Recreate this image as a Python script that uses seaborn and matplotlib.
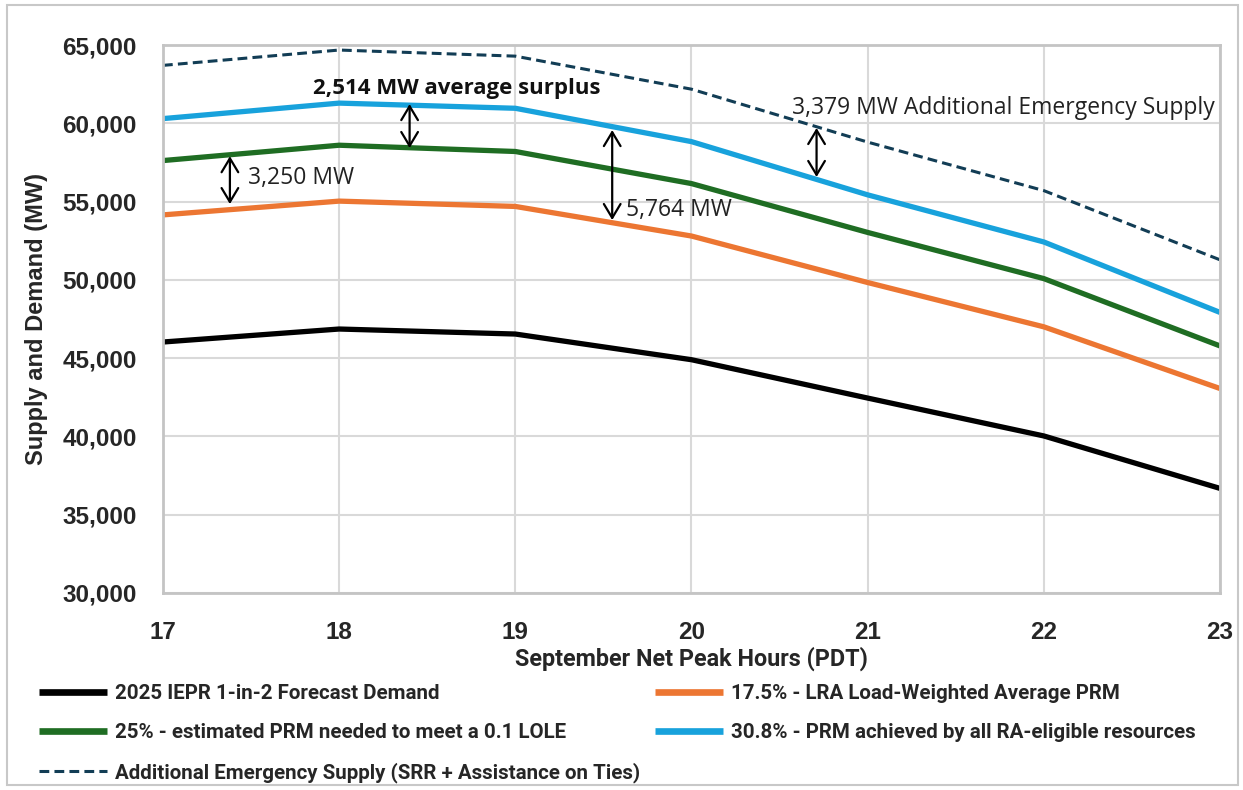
"""September net peak supply vs demand, recreated with seaborn."""

import matplotlib

matplotlib.use("Agg")
import matplotlib.pyplot as plt
import pandas as pd
import seaborn as sns
from matplotlib.patches import Rectangle
from matplotlib.ticker import FuncFormatter

# ---- data ----
hours = [17, 18, 19, 20, 21, 22, 23]
demand = [46030, 46860, 46540, 44900, 42450, 40030, 36680]
prm_175 = [54150, 55030, 54690, 52800, 49830, 47000, 43060]
prm_25 = [57620, 58600, 58200, 56150, 53030, 50080, 45780]
prm_308 = [60300, 61290, 60960, 58830, 55430, 52420, 47920]
emergency = [63700, 64680, 64290, 62180, 58800, 55700, 51280]

series_labels = [
    "2025 IEPR 1-in-2 Forecast Demand",
    "17.5% - LRA Load-Weighted Average PRM",
    "25% - estimated PRM needed to meet a 0.1 LOLE",
    "30.8% - PRM achieved by all RA-eligible resources",
    "Additional Emergency Supply (SRR + Assistance on Ties)",
]
series_values = [demand, prm_175, prm_25, prm_308, emergency]
series_colors = ["#000000", "#ec7632", "#1f6d23", "#18a2dc", "#123d55"]

# annotation gaps: (label, x, y_low, y_high)
gap_arrows = [
    ("3,250 MW", 17.38, 54840, 57900),
    ("2,514 MW average surplus", 18.40, 58420, 61230),
    ("5,764 MW", 19.55, 53820, 59570),
    ("3,379 MW Additional Emergency Supply", 20.71, 56570, 59700),
]

df = pd.DataFrame(
    {
        "hour": hours * len(series_labels),
        "mw": [v for vals in series_values for v in vals],
        "series": [lab for lab in series_labels for _ in hours],
    }
)

sns.set_style("white")
plt.rcParams["font.family"] = ["Liberation Sans", "DejaVu Sans"]

fig = plt.figure(figsize=(12.43, 7.90), dpi=100)
ax = fig.add_axes([0.1311, 0.2494, 0.8504, 0.6936])

for lab, col in zip(series_labels, series_colors):
    sub = df[df["series"] == lab]
    dashed = lab.startswith("Additional")
    sns.lineplot(
        data=sub,
        x="hour",
        y="mw",
        ax=ax,
        color=col,
        linewidth=2.2 if dashed else 3.8,
        linestyle=(0, (3.2, 1.7)) if dashed else "-",
        label=lab,
        solid_capstyle="butt",
        dash_capstyle="butt",
    )

ax.set_xlim(17, 23)
ax.set_ylim(30000, 65000)
ax.set_xticks(hours)
ax.set_yticks(range(30000, 65001, 5000))
ax.yaxis.set_major_formatter(FuncFormatter(lambda v, _: f"{int(v):,}"))
ax.grid(True, color="#d9d9d9", linewidth=1.5)
ax.set_axisbelow(True)
for sp in ax.spines.values():
    sp.set_color("#c4c4c4")
    sp.set_linewidth(2)
ax.tick_params(axis="both", length=0, labelsize=17.5)
ax.tick_params(axis="y", pad=19)
ax.tick_params(axis="x", pad=20)
for t in ax.get_xticklabels() + ax.get_yticklabels():
    t.set_fontweight("bold")

narrow = ["Liberation Sans Narrow", "Roboto", "DejaVu Sans"]
ax.set_xlabel("September Net Peak Hours (PDT)", fontsize=16.8, fontweight="bold",
              family=narrow, labelpad=2)
ax.set_ylabel("Supply and Demand (MW)", fontsize=17, fontweight="bold",
              labelpad=10)

# double-headed gap arrows
for _, x, lo, hi in gap_arrows:
    ax.annotate("", xy=(x, hi), xytext=(x, lo),
                arrowprops=dict(arrowstyle="<->,head_length=1.0,head_width=0.6",
                                color="black", lw=1.6, shrinkA=0, shrinkB=0))

anno_font = ["Open Sans", "DejaVu Sans"]
ax.text(17.48, 56500, gap_arrows[0][0], fontsize=16.5, family=anno_font,
        ha="left", va="center", color="#222222")
ax.text(17.85, 62250, gap_arrows[1][0], fontsize=16, family=anno_font,
        fontweight="bold", ha="left", va="center", color="#111111")
ax.text(19.63, 54460, gap_arrows[2][0], fontsize=16.5, family=anno_font,
        ha="left", va="center", color="#222222")
ax.text(22.97, 60970, gap_arrows[3][0], fontsize=16.5, family=anno_font,
        ha="right", va="center", color="#222222")

# legend: two columns, filled row-wise by ordering handles
handles, labels = ax.get_legend_handles_labels()
order = [0, 2, 4, 1, 3]
leg = ax.legend(
    [handles[i] for i in order],
    [labels[i] for i in order],
    loc="upper left",
    bbox_to_anchor=(-0.135, -0.133),
    ncol=2,
    frameon=False,
    handlelength=3.3,
    handletextpad=0.4,
    columnspacing=0.75,
    labelspacing=0.97,
    prop=dict(family=narrow, weight="bold", size=14.8),
)
for line in leg.get_lines():
    if line.get_linestyle() in ("-", "solid"):
        line.set_linewidth(4.8)

# light frame around the whole chart
fig.patches.append(Rectangle((0.006, 0.006), 0.99, 0.988, transform=fig.transFigure,
                             fill=False, edgecolor="#c8c8c8", linewidth=1.5))

fig.savefig("out.png", dpi=100)
